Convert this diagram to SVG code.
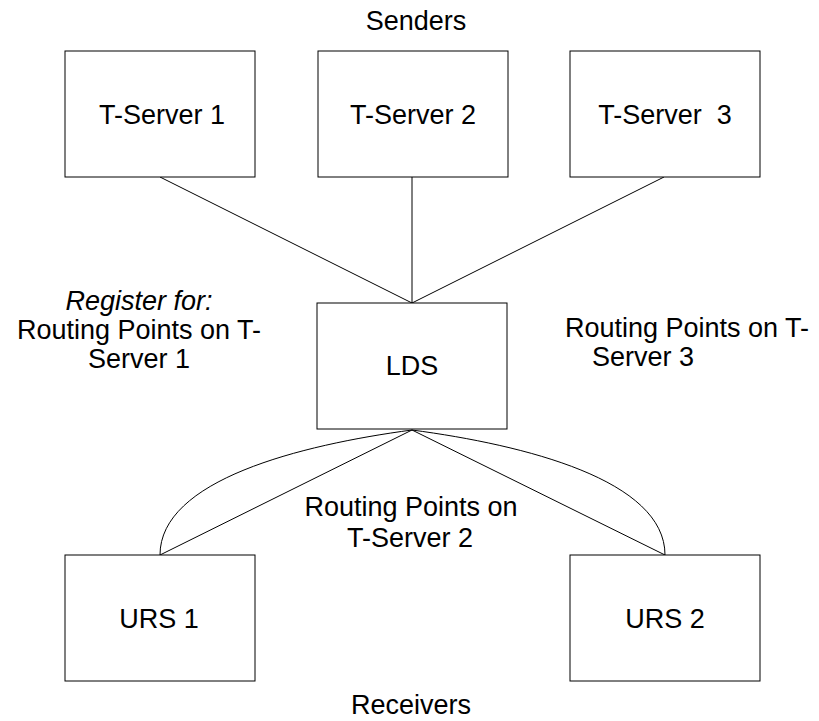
<svg xmlns="http://www.w3.org/2000/svg" width="819" height="721" viewBox="0 0 819 721">
<style>
.box{fill:#fff;stroke:#000;stroke-width:1}
.ln{fill:none;stroke:#000;stroke-width:1}
text{font-family:"Liberation Sans",Arial,sans-serif;font-size:27px;fill:#000;text-anchor:middle}
.it{font-style:italic}
</style>
<rect width="819" height="721" fill="#fff"/>
<g id="connectors">
<line class="ln" x1="160" y1="177" x2="412" y2="303"/>
<line class="ln" x1="412" y1="177" x2="412" y2="303"/>
<line class="ln" x1="664" y1="177" x2="412" y2="303"/>
<line class="ln" x1="412" y1="430" x2="160" y2="555"/>
<line class="ln" x1="412" y1="430" x2="665" y2="555"/>
<path class="ln" d="M412,430 C300,445 160,480 160,555"/>
<path class="ln" d="M412,430 C525,445 665,480 665,555"/>
</g>
<text x="416" y="30">Senders</text>
<g id="ts1"><rect class="box" x="65" y="51" width="190" height="126"/><text x="162" y="124">T-Server 1</text></g>
<g id="ts2"><rect class="box" x="318" y="51" width="190" height="126"/><text x="413" y="124">T-Server 2</text></g>
<g id="ts3"><rect class="box" x="570" y="51" width="190" height="126"/><text x="665" y="124" xml:space="preserve">T-Server  3</text></g>
<g id="lds"><rect class="box" x="317" y="303" width="190" height="126"/><text x="412" y="375">LDS</text></g>
<g id="urs1"><rect class="box" x="65" y="555" width="190" height="126"/><text x="159" y="628">URS 1</text></g>
<g id="urs2"><rect class="box" x="570" y="555" width="190" height="126"/><text x="665" y="628">URS 2</text></g>
<g id="label-left">
<text class="it" x="139" y="310">Register for:</text>
<text x="139" y="339">Routing Points on T-</text>
<text x="139" y="368">Server 1</text>
</g>
<g id="label-right">
<text x="687" y="337">Routing Points on T-</text>
<text x="643" y="366">Server 3</text>
</g>
<g id="label-mid">
<text x="411" y="516">Routing Points on</text>
<text x="410" y="547">T-Server 2</text>
</g>
<text x="411" y="714">Receivers</text>
</svg>
